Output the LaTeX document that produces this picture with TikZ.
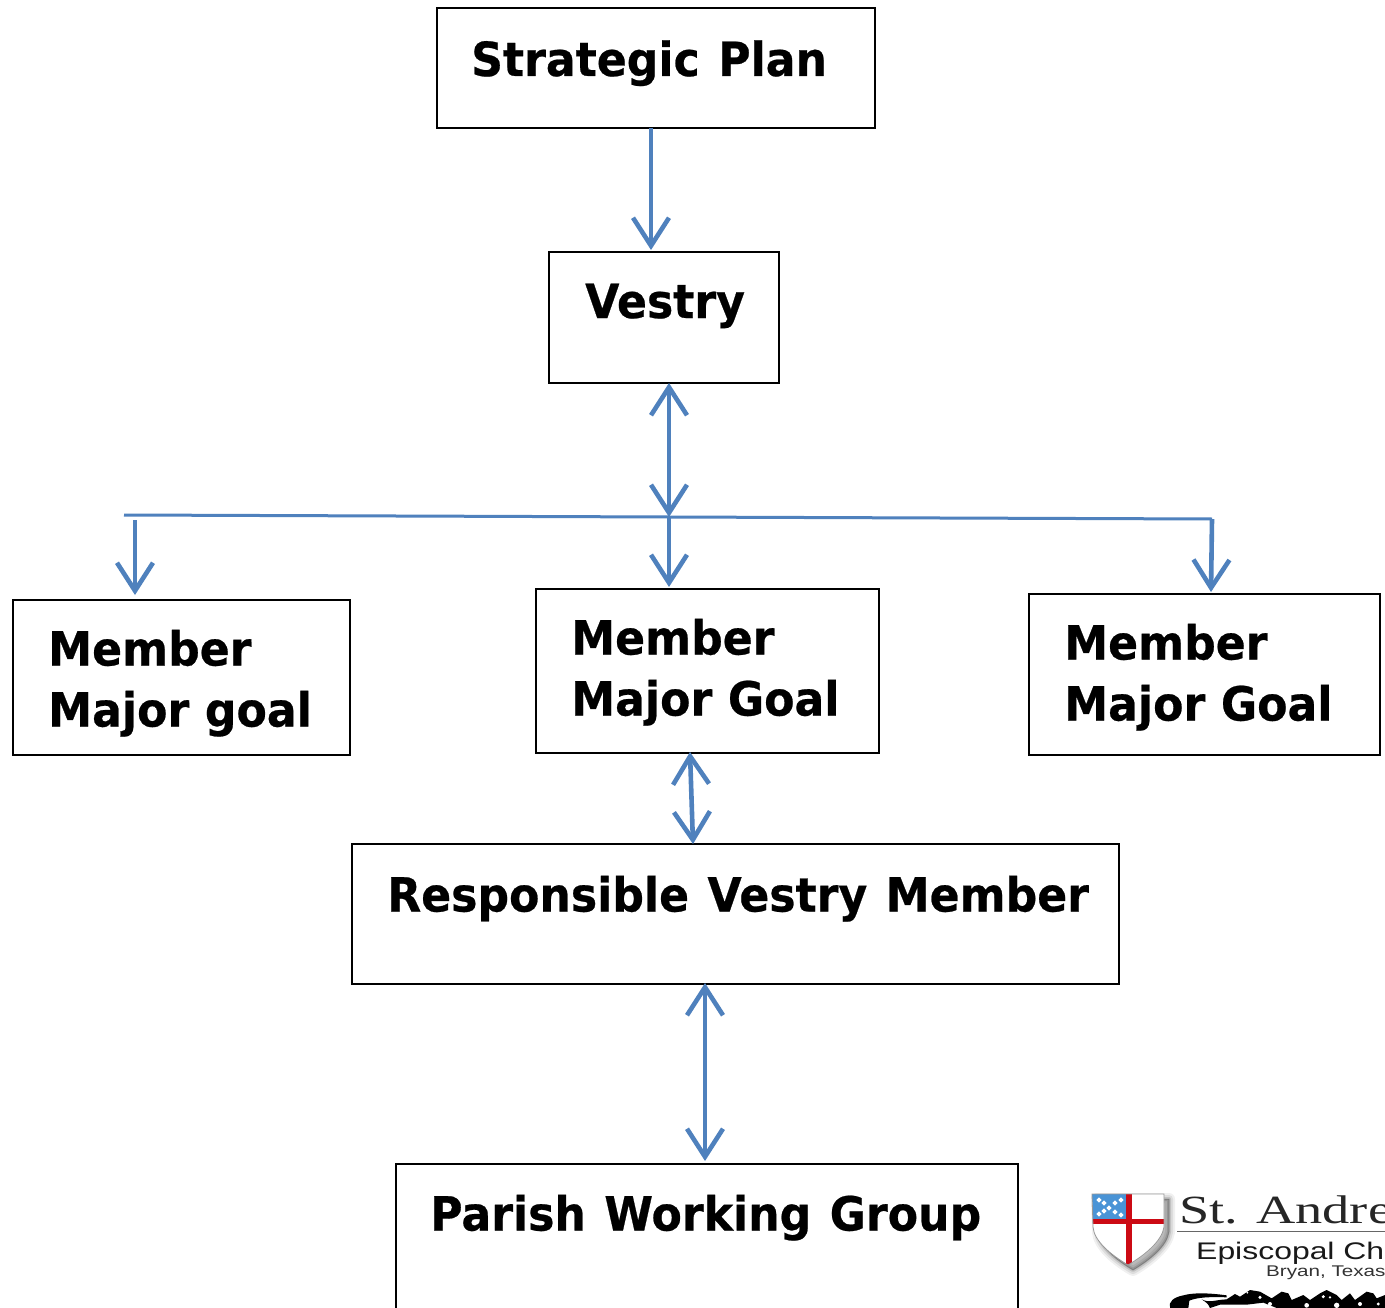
\documentclass[tikz,border=0pt]{standalone}
\usepackage{fontspec}
\setmainfont{DejaVu Sans}
\newfontfamily\boxfont[FakeBold=0.5,FakeStretch=0.94,WordSpace=1.2]{DejaVu Sans Bold}
\newfontfamily\logoserif[FakeStretch=1.36]{Liberation Serif}
\newfontfamily\logosans[FakeStretch=1.33]{Liberation Sans}
\usetikzlibrary{arrows.meta}
\definecolor{flow}{HTML}{4F81BD}
\definecolor{crossred}{HTML}{CC0A14}
\definecolor{cantonblue}{HTML}{4A94D6}
\tikzset{
  boxnode/.style={draw=black,line width=2.4pt,fill=white,inner sep=0pt,anchor=north west},
  boxtext/.style={font=\boxfont\fontsize{47}{61}\selectfont,anchor=base west,inner sep=0pt,align=left,text=black},
  flowline/.style={draw=flow,line width=4.6pt},
  oneway/.style={flowline,-{Straight Barb[length=28pt,width=36pt,line width=4.6pt]}},
  twoway/.style={flowline,{Straight Barb[length=28pt,width=36pt,line width=4.6pt]}-{Straight Barb[length=28pt,width=36pt,line width=4.6pt]}},
  thinflow/.style={draw=flow,line width=3pt},
  shieldpath/.style={insert path={(1092,1194) -- (1164,1194) -- (1164,1227) .. controls (1162,1241) and (1145,1255) .. (1128,1265) .. controls (1111,1255) and (1094,1241) .. (1093,1227) -- cycle}}
}
\begin{document}
\begin{tikzpicture}[x=1pt,y=-1pt]
\useasboundingbox (0,0) rectangle (1385,1308);
\clip (0,0) rectangle (1385,1308);
\fill[white] (0,0) rectangle (1385,1308);

% boxes
\node[boxnode,minimum width=438pt,minimum height=120pt] (plan) at (436,7) {};
\node[boxnode,minimum width=230pt,minimum height=131pt] (vestry) at (548,251) {};
\node[boxnode,minimum width=337pt,minimum height=155pt] (goalL) at (12,599) {};
\node[boxnode,minimum width=343pt,minimum height=164pt] (goalM) at (535,588) {};
\node[boxnode,minimum width=351pt,minimum height=161pt] (goalR) at (1028,593) {};
\node[boxnode,minimum width=767pt,minimum height=140pt] (resp) at (351,843) {};
\node[boxnode,minimum width=622pt,minimum height=160pt] (group) at (395,1163) {};

% texts
\node[boxtext] (tplan) at (471,76) {Strategic Plan};
\node[boxtext] (tvestry) at (585,318) {Vestry};
\node[boxtext,text width=320pt] (tgoalL) at (48,665.5) {Member\\Major goal};
\node[boxtext,text width=320pt] (tgoalM) at (571,654.5) {Member\\Major Goal};
\node[boxtext,text width=300pt] (tgoalR) at (1064,659.5) {Member\\Major Goal};
\node[boxtext] (tresp) at (387,911.5) {Responsible Vestry Member};
\node[boxtext] (tgroup) at (430,1230.5) {Parish Working Group};

% connectors
\coordinate (busL) at (124,515);
\coordinate (busM) at (669,517);
\coordinate (busR) at (1212,519);
\draw[oneway] (651,128) -- (651,250);
\draw[twoway] (669,383) -- (busM);
\draw[thinflow] (busL) -- (busM) -- (busR);
\draw[oneway] (135,520) -- (135,595);
\draw[oneway] (busM) -- (669,587);
\draw[oneway] (busR) -- (1211,592);
\draw[twoway] (690,752) -- (693,844);
\draw[twoway] (705,983) -- (705,1161);

% logo
\foreach \w/\o in {12/.06,8/.08,4/.12,1/.2}
  \draw[black,opacity=\o,fill=black,fill opacity=.06,line width=\w pt,line join=round,shift={(5,5)},shieldpath];
\begin{scope}
\path[clip,shieldpath];
\fill[white] (1090,1190) rectangle (1170,1270);
\fill[cantonblue] (1092,1194) rectangle (1126,1219);
\fill[crossred] (1126,1190) rectangle (1132,1270);
\fill[crossred] (1090,1219) rectangle (1170,1224);
\foreach \px/\py in {1099/1200,1104/1203,1109/1208,1115/1203,1121/1200,1104/1211,1099/1214,1115/1212,1121/1215}
  \fill[white] (\px,\py-2.6) -- (\px+2.6,\py) -- (\px,\py+2.6) -- (\px-2.6,\py) -- cycle;
\end{scope}
\draw[black!40,line width=.8pt,shieldpath];

\node[font=\logoserif\fontsize{40}{40}\selectfont,anchor=base west,inner sep=0pt,text=black!85] (logoA) at (1179,1223) {St. Andre};
\coordinate (ruleL) at (1177,1231);
\coordinate (ruleR) at (1385,1231);
\draw[black!60,line width=1pt] (ruleL) -- (ruleR);
\node[font=\logosans\fontsize{24}{24}\selectfont,anchor=base west,inner sep=0pt,text=black!90] (logoB) at (1196,1259) {Episcopal Ch};
\node[font=\logosans\fontsize{15.5}{15.5}\selectfont,anchor=base west,inner sep=0pt,text=black!80] (logoC) at (1266,1276) {Bryan, Texas};

% ornament (cropped at the bottom edge)
\begin{scope}[shift={(1160,1280)},x=.3333pt,y=-.3333pt]
\fill[black] (30,84) .. controls (25,65) and (40,52) .. (70,46) .. controls (100,38) and (140,38) .. (200,46) -- (200,52) .. controls (150,50) and (110,52) .. (88,62) -- (85,84) -- cycle;
\fill[black] (125,58) .. controls (150,70) and (160,60) .. (200,58) -- (225,42) -- (240,50) -- (270,30) -- (300,35) -- (335,55) -- (365,35) -- (385,40) -- (395,60) -- (430,45) -- (450,60) -- (480,40) -- (500,30) -- (530,45) -- (545,60) -- (570,40) -- (585,60) -- (620,35) -- (640,40) -- (650,55) -- (675,45) -- (675,84) -- (350,84) -- (310,68) -- (260,74) -- (180,74) -- (150,84) .. controls (145,70) and (135,65) .. (125,58) -- cycle;
\foreach \hx/\hy/\hr in {245/42/3,262/38/3,300/52/5,330/72/6,440/76/7,490/50/5,510/52/4,530/76/8,600/72/6,655/72/5}
  \fill[white] (\hx,\hy) circle[radius=\hr];
\end{scope}
\end{tikzpicture}
\end{document}
